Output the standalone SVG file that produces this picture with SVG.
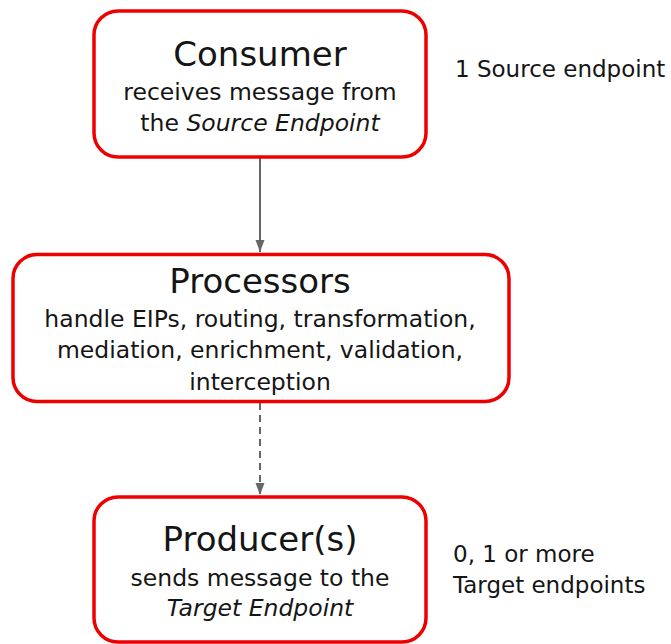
<svg xmlns="http://www.w3.org/2000/svg" width="671" height="644" viewBox="0 0 671 644">
<defs>
<style>
.box{fill:#fff;stroke:#ee0000;stroke-width:3.5}
.t{font-family:"DejaVu Sans","Liberation Sans",sans-serif;fill:#151515;text-anchor:middle}
.title{font-size:34px}
.body{font-size:23.5px}
.it{font-style:italic}
.side{font-family:"DejaVu Sans","Liberation Sans",sans-serif;fill:#151515;font-size:23px}
.conn{stroke:#666;stroke-width:2;fill:none}
</style>
<marker id="ah" viewBox="0 0 10 12" refX="10" refY="6" markerWidth="10" markerHeight="12" markerUnits="userSpaceOnUse" orient="auto">
<path d="M0,1 L10,6 L0,11 Z" fill="#666"/>
</marker>
<marker id="ah2" viewBox="0 0 12 10" refX="12" refY="5" markerWidth="12" markerHeight="10" markerUnits="userSpaceOnUse" orient="auto">
<path d="M0,0.5 L12,5 L0,9.5 Z" fill="#666"/>
</marker>
</defs>
<rect width="671" height="644" fill="#fff"/>
<g id="connectors">
<line class="conn" x1="260" y1="158" x2="260" y2="252" marker-end="url(#ah2)"/>
<line class="conn" x1="260" y1="403" x2="260" y2="495" stroke-dasharray="7,5" marker-end="url(#ah2)"/>
</g>
<g id="consumer">
<rect class="box" x="94" y="11" width="332" height="146" rx="24"/>
<text class="t title" x="260" y="66">Consumer</text>
<text class="t body" x="260" y="100">receives message from</text>
<text class="t body" x="260" y="131">the <tspan class="it">Source Endpoint</tspan></text>
</g>
<g id="processors">
<rect class="box" x="13" y="254.5" width="496" height="147" rx="24"/>
<text class="t title" x="260" y="293">Processors</text>
<text class="t body" x="260" y="327">handle EIPs, routing, transformation,</text>
<text class="t body" x="260" y="358">mediation, enrichment, validation,</text>
<text class="t body" x="260" y="390">interception</text>
</g>
<g id="producer">
<rect class="box" x="94" y="497" width="332" height="145" rx="24"/>
<text class="t title" x="260" y="551">Producer(s)</text>
<text class="t body" x="260" y="586">sends message to the</text>
<text class="t body it" x="260" y="616">Target Endpoint</text>
</g>
<g id="side-labels">
<text class="side" x="455" y="77">1 Source endpoint</text>
<text class="side" x="453" y="562">0, 1 or more</text>
<text class="side" x="453" y="593">Target endpoints</text>
</g>
</svg>
